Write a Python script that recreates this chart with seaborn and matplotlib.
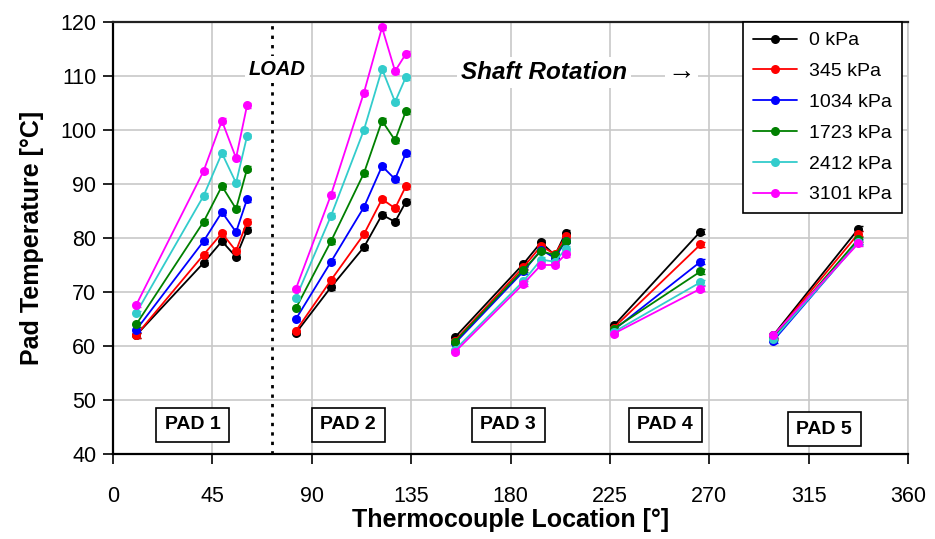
import numpy as np
import pandas as pd
import matplotlib
matplotlib.use("Agg")
import matplotlib.pyplot as plt
import seaborn as sns

pressures = ["0 kPa", "345 kPa", "1034 kPa", "1723 kPa", "2412 kPa", "3101 kPa"]
colors = ["#000000", "#ff0000", "#0000ff", "#008000", "#33cccc", "#ff00ff"]

pad1_loc = [10.5, 41, 49.3, 55.7, 60.7]
pad2_loc = [82.8, 98.7, 113.6, 121.8, 127.7, 132.6]
pad3_loc = [154.8, 185.8, 193.8, 200.1, 205.0]
pad4_loc = [226.8, 266.0]
pad5_loc = [299.0, 337.5]

pad1_temp = {
    "0 kPa":    [62.0, 75.4, 79.4, 76.5, 81.5],
    "345 kPa":  [62.0, 76.9, 80.9, 77.6, 83.0],
    "1034 kPa": [63.0, 79.4, 84.8, 81.1, 87.2],
    "1723 kPa": [64.0, 83.0, 89.6, 85.4, 92.8],
    "2412 kPa": [66.1, 87.8, 95.7, 90.2, 98.9],
    "3101 kPa": [67.6, 92.4, 101.7, 94.8, 104.6],
}
pad2_temp = {
    "0 kPa":    [62.4, 70.9, 78.3, 84.3, 83.0, 86.7],
    "345 kPa":  [62.8, 72.2, 80.7, 87.2, 85.5, 89.6],
    "1034 kPa": [65.0, 75.6, 85.7, 93.3, 90.9, 95.7],
    "1723 kPa": [67.0, 79.4, 92.0, 101.7, 98.1, 103.5],
    "2412 kPa": [68.9, 84.1, 100.0, 111.3, 105.2, 109.8],
    "3101 kPa": [70.6, 88.0, 106.9, 119.0, 110.9, 114.1],
}
pad3_temp = {
    "0 kPa":    [61.6, 75.2, 79.2, 76.8, 81.0],
    "345 kPa":  [61.0, 74.6, 78.5, 77.0, 80.3],
    "1034 kPa": [60.5, 73.8, 77.8, 76.3, 79.5],
    "1723 kPa": [60.8, 74.1, 77.6, 76.8, 79.5],
    "2412 kPa": [59.3, 72.0, 76.0, 75.6, 78.0],
    "3101 kPa": [58.9, 71.5, 75.0, 75.0, 77.0],
}
pad4_temp = {
    "0 kPa":    [63.8, 81.2],
    "345 kPa":  [63.4, 78.8],
    "1034 kPa": [63.0, 75.6],
    "1723 kPa": [63.2, 73.8],
    "2412 kPa": [62.6, 71.8],
    "3101 kPa": [62.3, 70.6],
}
pad5_temp = {
    "0 kPa":    [62.0, 81.7],
    "345 kPa":  [61.8, 80.8],
    "1034 kPa": [61.0, 79.3],
    "1723 kPa": [61.5, 79.8],
    "2412 kPa": [61.3, 79.2],
    "3101 kPa": [62.0, 79.0],
}

pad_names = ["PAD 1", "PAD 2", "PAD 3", "PAD 4", "PAD 5"]
pad_label_x = [36, 106.5, 179, 250, 322]
pad_label_y = [45.4, 45.4, 45.4, 45.4, 44.6]

rows = []
for pname, locs, temps in zip(pad_names,
                              [pad1_loc, pad2_loc, pad3_loc, pad4_loc, pad5_loc],
                              [pad1_temp, pad2_temp, pad3_temp, pad4_temp, pad5_temp]):
    for p in pressures:
        for x, y in zip(locs, temps[p]):
            rows.append({"pad": pname, "loc": x, "temp": y, "pressure": p})
df = pd.DataFrame(rows)

sns.set_theme(style="white")
plt.rcParams["font.family"] = ["Liberation Sans", "DejaVu Sans"]
plt.rcParams["text.color"] = "black"
plt.rcParams["axes.labelcolor"] = "black"
plt.rcParams["xtick.color"] = "black"
plt.rcParams["ytick.color"] = "black"

fig = plt.figure(figsize=(9.35, 5.39), dpi=100)
ax = fig.add_axes([0.1209, 0.1577, 0.8503, 0.8015])

ax.grid(True, color="#c8c8c8", lw=1.2, zorder=0)
ax.set_axisbelow(True)

# small error bars (caps) drawn first
for p, c in zip(pressures, colors):
    sub = df[df.pressure == p]
    ax.errorbar(sub["loc"] + 0.6, sub["temp"], yerr=0.45, fmt="none",
                ecolor=c, elinewidth=1.0, capsize=2.5, capthick=1.0, zorder=2)

sns.lineplot(data=df, x="loc", y="temp", hue="pressure", hue_order=pressures,
             palette=colors, units="pad", estimator=None, sort=False,
             marker="o", markersize=6.5, markeredgewidth=0, lw=1.3, ax=ax,
             zorder=3)

ax.set_xlim(0, 360)
ax.set_ylim(40, 120)
ax.set_xticks(np.arange(0, 361, 45))
ax.set_yticks(np.arange(40, 121, 10))
ax.tick_params(axis="both", which="major", direction="out", length=7, width=1.2,
               labelsize=15.5, colors="black", left=True, bottom=True)
ax.tick_params(axis="x", pad=16)
ax.tick_params(axis="y", pad=5)

for s in ["left", "bottom"]:
    ax.spines[s].set_color("black")
    ax.spines[s].set_linewidth(1.6)
ax.spines["top"].set_color("#222222")
ax.spines["top"].set_linewidth(1.6)
ax.spines["right"].set_color("#c8c8c8")
ax.spines["right"].set_linewidth(1.2)

ax.set_xlabel("Thermocouple Location [°]", fontsize=18, fontweight="bold",
              labelpad=1, color="black")
ax.set_ylabel("Pad Temperature [°C]", fontsize=18, fontweight="bold",
              labelpad=12, color="black")

# load line
ax.axvline(72, color="black", ls=(0, (1.2, 2.2)), lw=2, zorder=1)
ax.text(74.5, 111.2, "LOAD", fontsize=14.5, fontweight="bold", style="italic",
        ha="center", va="center", zorder=4, color="black",
        bbox=dict(facecolor="white", edgecolor="none", pad=3))
ax.text(157.5, 110.6, "Shaft Rotation", fontsize=17.5, fontweight="bold", style="italic",
        ha="left", va="center", zorder=4, color="black",
        bbox=dict(facecolor="white", edgecolor="none", pad=3))
ax.text(257.5, 110.6, "→", fontsize=20, ha="center", va="center", zorder=4,
        color="black", bbox=dict(facecolor="white", edgecolor="none", pad=2))

for name, x, y in zip(pad_names, pad_label_x, pad_label_y):
    ax.text(x, y, name, fontsize=14, fontweight="bold", ha="center", va="center",
            zorder=4, color="black",
            bbox=dict(facecolor="white", edgecolor="black", lw=1.2,
                      boxstyle="square,pad=0.45"))

leg = ax.legend(loc="upper right", bbox_to_anchor=(0.992, 1.0), fontsize=14,
                frameon=True, fancybox=False, edgecolor="black", framealpha=1,
                labelspacing=0.68, handlelength=2.3, borderpad=0.5,
                handletextpad=0.6, borderaxespad=0)
leg.get_frame().set_linewidth(1.2)
for t in leg.get_texts():
    t.set_color("black")
leg.set_zorder(5)

fig.savefig("out.png", dpi=100)
